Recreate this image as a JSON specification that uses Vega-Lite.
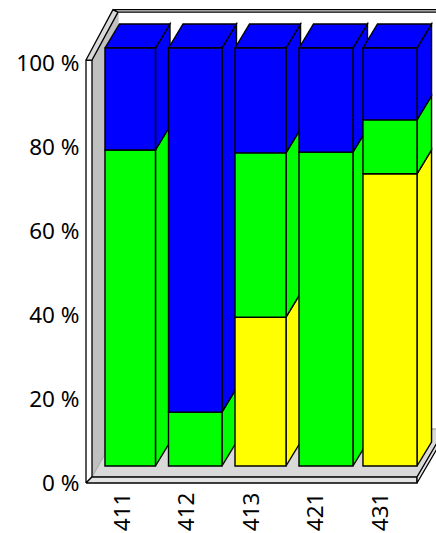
{
"$schema":"https://vega.github.io/schema/vega-lite/v6.json",
"width":350,"height":483,"autosize":{"type":"none"},"padding":{"left":86,"top":0,"right":0,"bottom":50},"background":"white",
"config":{"view":{"stroke":null},"axis":{"grid":false,"domain":false,"ticks":false,"title":null,"labelFont":"Noto Sans","labelFontSize":22.5,"labelColor":"black"}},
"datasets":{
"frame":[
{"p":"wall","v":1,"s":0.535,"y":1.43},{"p":"wall","v":2,"s":0.535,"y":100.7},{"p":"wall","v":3,"s":0.938,"y":112.1},{"p":"wall","v":4,"s":0.938,"y":12.86},{"p":"wall","v":5,"s":0.535,"y":1.43},
{"p":"floor","v":1,"s":0.535,"y":1.43},{"p":"floor","v":2,"s":5.574,"y":1.43},{"p":"floor","v":3,"s":6.008,"y":12.86},{"p":"floor","v":4,"s":0.953,"y":12.86},{"p":"floor","v":5,"s":0.535,"y":1.43},
{"p":"left","v":1,"s":0.442,"y":0},{"p":"left","v":2,"s":0.442,"y":100.7},{"p":"left","v":3,"s":0.535,"y":100.7},{"p":"left","v":4,"s":0.535,"y":1.43},{"p":"left","v":5,"s":0.442,"y":0},
{"p":"bottom","v":1,"s":0.442,"y":0},{"p":"bottom","v":2,"s":5.574,"y":0},{"p":"bottom","v":3,"s":5.574,"y":1.43},{"p":"bottom","v":4,"s":0.535,"y":1.43},{"p":"bottom","v":5,"s":0.442,"y":0},
{"p":"right","v":1,"s":5.574,"y":0},{"p":"right","v":2,"s":6.008,"y":11.43},{"p":"right","v":3,"s":6.008,"y":12.86},{"p":"right","v":4,"s":5.574,"y":1.43},{"p":"right","v":5,"s":5.574,"y":0},
{"p":"topleft","v":1,"s":0.442,"y":100.7},{"p":"topleft","v":2,"s":0.86,"y":112.7},{"p":"topleft","v":3,"s":0.938,"y":112.1},{"p":"topleft","v":4,"s":0.535,"y":100.7},{"p":"topleft","v":5,"s":0.442,"y":100.7},
{"p":"topback","v":1,"s":0.86,"y":112.7},{"p":"topback","v":2,"s":6.008,"y":112.7},{"p":"topback","v":3,"s":6.008,"y":112.1},{"p":"topback","v":4,"s":0.938,"y":112.1},{"p":"topback","v":5,"s":0.86,"y":112.7}
],
"bars":[
{"cat":"411","series":"green","x0":0.736,"x1":1.519,"y0":0,"y1":75.6},
{"cat":"411","series":"blue","x0":0.736,"x1":1.519,"y0":75.6,"y1":100},
{"cat":"412","series":"green","x0":1.721,"x1":2.55,"y0":0,"y1":12.9},
{"cat":"412","series":"blue","x0":1.721,"x1":2.55,"y0":12.9,"y1":100},
{"cat":"413","series":"yellow","x0":2.752,"x1":3.543,"y0":0,"y1":35.6},
{"cat":"413","series":"green","x0":2.752,"x1":3.543,"y0":35.6,"y1":74.9},
{"cat":"413","series":"blue","x0":2.752,"x1":3.543,"y0":74.9,"y1":100},
{"cat":"421","series":"green","x0":3.744,"x1":4.581,"y0":0,"y1":75.1},
{"cat":"421","series":"blue","x0":3.744,"x1":4.581,"y0":75.1,"y1":100},
{"cat":"431","series":"yellow","x0":4.736,"x1":5.574,"y0":0,"y1":69.9},
{"cat":"431","series":"green","x0":4.736,"x1":5.574,"y0":69.9,"y1":82.8},
{"cat":"431","series":"blue","x0":4.736,"x1":5.574,"y0":82.8,"y1":100}
],
"faces":[
{"f":"a1","c":"green","v":1,"s":1.519,"y":0},{"f":"a1","c":"green","v":2,"s":1.519,"y":75.6},{"f":"a1","c":"green","v":3,"s":1.744,"y":81.34},{"f":"a1","c":"green","v":4,"s":1.744,"y":5.74},{"f":"a1","c":"green","v":5,"s":1.519,"y":0},
{"f":"a2","c":"blue","v":1,"s":1.519,"y":75.6},{"f":"a2","c":"blue","v":2,"s":1.519,"y":100},{"f":"a2","c":"blue","v":3,"s":1.744,"y":105.74},{"f":"a2","c":"blue","v":4,"s":1.744,"y":81.34},{"f":"a2","c":"blue","v":5,"s":1.519,"y":75.6},
{"f":"a3","c":"blue","v":1,"s":0.736,"y":100},{"f":"a3","c":"blue","v":2,"s":1.519,"y":100},{"f":"a3","c":"blue","v":3,"s":1.744,"y":105.74},{"f":"a3","c":"blue","v":4,"s":0.961,"y":105.74},{"f":"a3","c":"blue","v":5,"s":0.736,"y":100},
{"f":"b1","c":"green","v":1,"s":2.55,"y":0},{"f":"b1","c":"green","v":2,"s":2.55,"y":12.9},{"f":"b1","c":"green","v":3,"s":2.775,"y":18.64},{"f":"b1","c":"green","v":4,"s":2.775,"y":5.74},{"f":"b1","c":"green","v":5,"s":2.55,"y":0},
{"f":"b2","c":"blue","v":1,"s":2.55,"y":12.9},{"f":"b2","c":"blue","v":2,"s":2.55,"y":100},{"f":"b2","c":"blue","v":3,"s":2.775,"y":105.74},{"f":"b2","c":"blue","v":4,"s":2.775,"y":18.64},{"f":"b2","c":"blue","v":5,"s":2.55,"y":12.9},
{"f":"b3","c":"blue","v":1,"s":1.721,"y":100},{"f":"b3","c":"blue","v":2,"s":2.55,"y":100},{"f":"b3","c":"blue","v":3,"s":2.775,"y":105.74},{"f":"b3","c":"blue","v":4,"s":1.946,"y":105.74},{"f":"b3","c":"blue","v":5,"s":1.721,"y":100},
{"f":"c1","c":"yellow","v":1,"s":3.543,"y":0},{"f":"c1","c":"yellow","v":2,"s":3.543,"y":35.6},{"f":"c1","c":"yellow","v":3,"s":3.768,"y":41.34},{"f":"c1","c":"yellow","v":4,"s":3.768,"y":5.74},{"f":"c1","c":"yellow","v":5,"s":3.543,"y":0},
{"f":"c2","c":"green","v":1,"s":3.543,"y":35.6},{"f":"c2","c":"green","v":2,"s":3.543,"y":74.9},{"f":"c2","c":"green","v":3,"s":3.768,"y":80.64},{"f":"c2","c":"green","v":4,"s":3.768,"y":41.34},{"f":"c2","c":"green","v":5,"s":3.543,"y":35.6},
{"f":"c3","c":"blue","v":1,"s":3.543,"y":74.9},{"f":"c3","c":"blue","v":2,"s":3.543,"y":100},{"f":"c3","c":"blue","v":3,"s":3.768,"y":105.74},{"f":"c3","c":"blue","v":4,"s":3.768,"y":80.64},{"f":"c3","c":"blue","v":5,"s":3.543,"y":74.9},
{"f":"c4","c":"blue","v":1,"s":2.752,"y":100},{"f":"c4","c":"blue","v":2,"s":3.543,"y":100},{"f":"c4","c":"blue","v":3,"s":3.768,"y":105.74},{"f":"c4","c":"blue","v":4,"s":2.977,"y":105.74},{"f":"c4","c":"blue","v":5,"s":2.752,"y":100},
{"f":"d1","c":"green","v":1,"s":4.581,"y":0},{"f":"d1","c":"green","v":2,"s":4.581,"y":75.1},{"f":"d1","c":"green","v":3,"s":4.806,"y":80.84},{"f":"d1","c":"green","v":4,"s":4.806,"y":5.74},{"f":"d1","c":"green","v":5,"s":4.581,"y":0},
{"f":"d2","c":"blue","v":1,"s":4.581,"y":75.1},{"f":"d2","c":"blue","v":2,"s":4.581,"y":100},{"f":"d2","c":"blue","v":3,"s":4.806,"y":105.74},{"f":"d2","c":"blue","v":4,"s":4.806,"y":80.84},{"f":"d2","c":"blue","v":5,"s":4.581,"y":75.1},
{"f":"d3","c":"blue","v":1,"s":3.744,"y":100},{"f":"d3","c":"blue","v":2,"s":4.581,"y":100},{"f":"d3","c":"blue","v":3,"s":4.806,"y":105.74},{"f":"d3","c":"blue","v":4,"s":3.969,"y":105.74},{"f":"d3","c":"blue","v":5,"s":3.744,"y":100},
{"f":"e1","c":"yellow","v":1,"s":5.574,"y":0},{"f":"e1","c":"yellow","v":2,"s":5.574,"y":69.9},{"f":"e1","c":"yellow","v":3,"s":5.799,"y":75.64},{"f":"e1","c":"yellow","v":4,"s":5.799,"y":5.74},{"f":"e1","c":"yellow","v":5,"s":5.574,"y":0},
{"f":"e2","c":"green","v":1,"s":5.574,"y":69.9},{"f":"e2","c":"green","v":2,"s":5.574,"y":82.8},{"f":"e2","c":"green","v":3,"s":5.799,"y":88.54},{"f":"e2","c":"green","v":4,"s":5.799,"y":75.64},{"f":"e2","c":"green","v":5,"s":5.574,"y":69.9},
{"f":"e3","c":"blue","v":1,"s":5.574,"y":82.8},{"f":"e3","c":"blue","v":2,"s":5.574,"y":100},{"f":"e3","c":"blue","v":3,"s":5.799,"y":105.74},{"f":"e3","c":"blue","v":4,"s":5.799,"y":88.54},{"f":"e3","c":"blue","v":5,"s":5.574,"y":82.8},
{"f":"e4","c":"blue","v":1,"s":4.736,"y":100},{"f":"e4","c":"blue","v":2,"s":5.574,"y":100},{"f":"e4","c":"blue","v":3,"s":5.799,"y":105.74},{"f":"e4","c":"blue","v":4,"s":4.961,"y":105.74},{"f":"e4","c":"blue","v":5,"s":4.736,"y":100}
]
},
"resolve":{"scale":{"y":"independent","fill":"independent"}},
"layer":[
{"data":{"name":"frame"},
 "mark":{"type":"line","strokeWidth":1.3,"clip":false},
 "encoding":{
  "x":{"field":"s","type":"quantitative","scale":{"domain":[1,5],"range":[36,294],"zero":false,"nice":false},
       "axis":{"values":[1,2,3,4,5],"labelAngle":-90,"labelAlign":"right","labelBaseline":"middle","labelPadding":9,"labelExpr":"['411','412','413','421','431'][datum.value-1]"}},
  "y":{"field":"y","type":"quantitative","scale":{"domain":[0,100],"range":[483,63],"zero":false,"nice":false},
       "axis":{"values":[0,20,40,60,80,100],"labelPadding":7,"labelExpr":"datum.value + ' %'"}},
  "order":{"field":"v","type":"quantitative"},
  "detail":{"field":"p"},
  "fill":{"field":"p","type":"nominal","legend":null,"scale":{"domain":["wall","floor","left","bottom","right","topleft","topback"],"range":["#c0c0c0","#d9d9d9","#ffffff","#e4e4e4","#e4e4e4","#d9d9d9","#d9d9d9"]}},
  "stroke":{"field":"p","type":"nominal","legend":null,"scale":{"domain":["wall","floor","left","bottom","right","topleft","topback"],"range":["#c0c0c0","#b0b0b0","#000000","#000000","#000000","#000000","#000000"]}}
 }},
{"data":{"name":"faces"},
 "mark":{"type":"line","stroke":"black","strokeWidth":1.4},
 "encoding":{
  "x":{"field":"s","type":"quantitative"},
  "y":{"field":"y","type":"quantitative","scale":{"domain":[0,100],"range":[466,48],"zero":false,"nice":false},"axis":null},
  "order":{"field":"v","type":"quantitative"},
  "detail":{"field":"f"},
  "fill":{"field":"c","type":"nominal","legend":null,"scale":{"domain":["blue","green","yellow"],"range":["#0000ff","#00ff00","#ffff00"]}}
 }},
{"data":{"name":"bars"},
 "mark":{"type":"rect","stroke":"black","strokeWidth":1.4},
 "encoding":{
  "x":{"field":"x0","type":"quantitative"},"x2":{"field":"x1"},
  "y":{"field":"y0","type":"quantitative","scale":{"domain":[0,100],"range":[466,48],"zero":false,"nice":false},"axis":null},"y2":{"field":"y1"},
  "fill":{"field":"series","type":"nominal","legend":null,"scale":{"domain":["blue","green","yellow"],"range":["#0000ff","#00ff00","#ffff00"]}}
 }}
]
}
